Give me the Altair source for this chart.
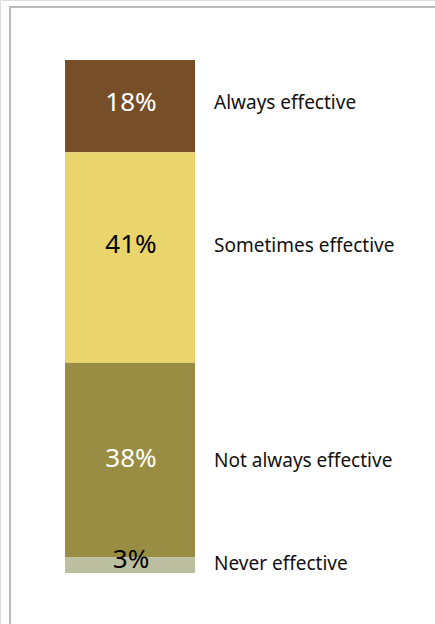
import altair as alt
import pandas as pd

categories = ["Always effective", "Sometimes effective", "Not always effective", "Never effective"]
values = [18, 41, 38, 3]
colors = ["#764F29", "#E9D56B", "#998D43", "#BBBF9F"]
pct_colors = ["#FFFFFF", "#000000", "#FFFFFF", "#000000"]
# label anchor positions (percent from top of bar)
label_pos = [8.4, 36.3, 78.1, 98.3]
pct_pos = [8.4, 36.0, 77.8, 97.4]

starts = []
acc = 0
for v in values:
    starts.append(acc)
    acc += v
df = pd.DataFrame({
    "category": categories,
    "value": values,
    "start": starts,
    "end": [s + v for s, v in zip(starts, values)],
    "pct": [f"{v}%" for v in values],
    "label_pos": label_pos,
    "pct_pos": pct_pos,
    "pct_color": pct_colors,
})

yscale = alt.Scale(domain=[0, 100], range=[60, 573])
color_scale = alt.Scale(domain=categories, range=colors)

bars = alt.Chart(df).mark_bar(stroke=None).encode(
    x=alt.value(65), x2=alt.value(195),
    y=alt.Y("start:Q", scale=yscale, axis=None),
    y2="end:Q",
    color=alt.Color("category:N", scale=color_scale, legend=None),
)

pct = alt.Chart(df).mark_text(font="Noto Sans", fontSize=26, align="center", baseline="middle").encode(
    x=alt.value(131),
    y=alt.Y("pct_pos:Q", scale=yscale, axis=None),
    text="pct:N",
    color=alt.Color("pct_color:N", scale=None),
)

labels = alt.Chart(df).mark_text(font="Noto Sans", fontSize=19, align="left", baseline="middle", color="#111111").encode(
    x=alt.value(214),
    y=alt.Y("label_pos:Q", scale=yscale, axis=None),
    text="category:N",
)

border_top = alt.Chart(df).mark_rule(color="#BBBBBB", strokeWidth=2).encode(
    x=alt.value(9), x2=alt.value(435), y=alt.value(7)
)
border_left = alt.Chart(df).mark_rule(color="#BBBBBB", strokeWidth=2).encode(
    x=alt.value(10), y=alt.value(6), y2=alt.value(624)
)

chart = alt.layer(border_top, border_left, bars, pct, labels).properties(
    width=435, height=624,
    autosize=alt.AutoSizeParams(type="none"),
    padding=0,
).configure_view(stroke=None).configure(background="#FFFFFF")

chart.save("out.html", embed_options={"renderer": "svg", "actions": False})
